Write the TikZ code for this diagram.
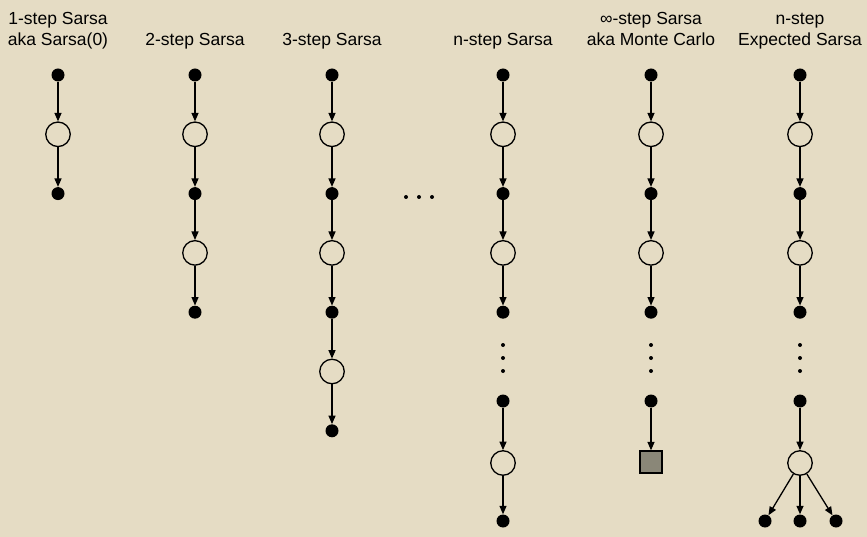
\documentclass[tikz,border=0pt]{standalone}
\usepackage{fontspec}
\setmainfont{Liberation Sans}
\usepackage{xcolor}
\definecolor{paper}{HTML}{E5DCC4}
\definecolor{endgray}{HTML}{8A8778}
\usetikzlibrary{arrows.meta, positioning}

\begin{document}
\begin{tikzpicture}[
    x=1pt, y=-1pt,
    st/.style={circle, draw, line width=1.3pt, fill=paper, inner sep=0pt,
        minimum size=24.5pt},
    act/.style={circle, fill=black, inner sep=0pt, minimum size=13pt},
    term/.style={rectangle, draw, line width=1.3pt, fill=endgray, inner sep=0pt,
        minimum size=22pt},
    tiny/.style={circle, fill=black, inner sep=0pt, minimum size=4pt},
    title/.style={font=\fontsize{17.5}{21}\selectfont, align=center, inner sep=0pt},
    arr/.style={-{Triangle[length=8.5pt,width=7pt]}, line width=1.3pt},
    node distance=59.3pt, on grid
]
\fill[paper] (0,0) rectangle (867,537);
\useasboundingbox (0,0) rectangle (867,537);

% titles
\node[title, anchor=base] (T1) at (58,46) {1-step Sarsa\\aka Sarsa(0)};
\node[title, anchor=base] (T2) at (195,46) {2-step Sarsa};
\node[title, anchor=base] (T3) at (332,46) {3-step Sarsa};
\node[title, anchor=base] (T4) at (503,46) {n-step Sarsa};
\node[title, anchor=base] (T5) at (651,46) {∞-step Sarsa\\aka Monte Carlo};
\node[title, anchor=base] (T6) at (800,46) {n-step\\Expected Sarsa};

% 1-step
\node[act] (A1) at (58,75) {};
\node[st, below=of A1] (A2) {};
\node[act, below=of A2] (A3) {};
\draw[arr] (A1) -- (A2); \draw[arr] (A2) -- (A3);

% 2-step
\node[act] (B1) at (195,75) {};
\node[st, below=of B1] (B2) {};
\node[act, below=of B2] (B3) {};
\node[st, below=of B3] (B4) {};
\node[act, below=of B4] (B5) {};
\draw[arr] (B1) -- (B2); \draw[arr] (B2) -- (B3);
\draw[arr] (B3) -- (B4); \draw[arr] (B4) -- (B5);

% 3-step
\node[act] (C1) at (332,75) {};
\node[st, below=of C1] (C2) {};
\node[act, below=of C2] (C3) {};
\node[st, below=of C3] (C4) {};
\node[act, below=of C4] (C5) {};
\node[st, below=of C5] (C6) {};
\node[act, below=of C6] (C7) {};
\draw[arr] (C1) -- (C2); \draw[arr] (C2) -- (C3); \draw[arr] (C3) -- (C4);
\draw[arr] (C4) -- (C5); \draw[arr] (C5) -- (C6); \draw[arr] (C6) -- (C7);

% horizontal dots
\node[tiny] (H1) at (406,197) {};
\node[tiny] (H2) at (419,197) {};
\node[tiny] (H3) at (432,197) {};

% n-step
\node[act] (D1) at (503,75) {};
\node[st, below=of D1] (D2) {};
\node[act, below=of D2] (D3) {};
\node[st, below=of D3] (D4) {};
\node[act, below=of D4] (D5) {};
\node[tiny] (D6) at (503,345) {};
\node[tiny] (D7) at (503,358) {};
\node[tiny] (D8) at (503,371) {};
\node[act] (D9) at (503,401) {};
\node[st] (D10) at (503,463) {};
\node[act] (D11) at (503,521) {};
\draw[arr] (D1) -- (D2); \draw[arr] (D2) -- (D3);
\draw[arr] (D3) -- (D4); \draw[arr] (D4) -- (D5);
\draw[arr] (D9) -- (D10); \draw[arr] (D10) -- (D11);

% Monte Carlo
\node[act] (E1) at (651,75) {};
\node[st, below=of E1] (E2) {};
\node[act, below=of E2] (E3) {};
\node[st, below=of E3] (E4) {};
\node[act, below=of E4] (E5) {};
\node[tiny] (E6) at (651,345) {};
\node[tiny] (E7) at (651,358) {};
\node[tiny] (E8) at (651,371) {};
\node[act] (E9) at (651,401) {};
\node[term] (E10) at (651,462) {};
\draw[arr] (E1) -- (E2); \draw[arr] (E2) -- (E3);
\draw[arr] (E3) -- (E4); \draw[arr] (E4) -- (E5);
\draw[arr] (E9) -- (E10);

% Expected Sarsa
\node[act] (F1) at (800,75) {};
\node[st, below=of F1] (F2) {};
\node[act, below=of F2] (F3) {};
\node[st, below=of F3] (F4) {};
\node[act, below=of F4] (F5) {};
\node[tiny] (F6) at (800,345) {};
\node[tiny] (F7) at (800,358) {};
\node[tiny] (F8) at (800,371) {};
\node[act] (F9) at (800,401) {};
\node[st] (F10) at (800,463) {};
\node[act] (F11) at (765,521) {};
\node[act] (F12) at (800,521) {};
\node[act] (F13) at (836,521) {};
\draw[arr] (F1) -- (F2); \draw[arr] (F2) -- (F3);
\draw[arr] (F3) -- (F4); \draw[arr] (F4) -- (F5);
\draw[arr] (F9) -- (F10);
\draw[arr] (F10) -- (F11); \draw[arr] (F10) -- (F12); \draw[arr] (F10) -- (F13);
\end{tikzpicture}
\end{document}
